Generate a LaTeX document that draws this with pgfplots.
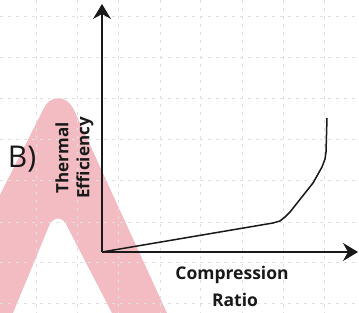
\documentclass[border=0pt]{standalone}
\usepackage{pgfplots}
\pgfplotsset{compat=1.18}
\usepackage{fontspec}
\setmainfont{Open Sans}
\usetikzlibrary{arrows.meta}
\definecolor{wm}{RGB}{243,188,194}
\definecolor{ink}{RGB}{25,25,25}
\begin{document}
\begin{tikzpicture}[>={Stealth[length=15pt,width=18pt,inset=5pt]}]
\begin{axis}[
  set layers,
  x=1pt, y=1pt,
  xmin=0, xmax=256, ymin=0, ymax=247,
  axis lines*=left,
  axis line style={draw=none},
  ticks=none,
  clip=false,
]
\begin{pgfonlayer}{axis background}
\begin{scope}[shift={(axis cs:-102,252)}, x=1pt, y=-1pt]
  \clip (0,0) rectangle (359,313);
  \fill[wm] (-60,313) -- (43,110) .. controls (50,94) and (66,94) .. (74,110) -- (167,313) -- (112,313) -- (67,226) .. controls (63,216) and (53,216) .. (49,226) -- (13,313) -- cycle;
  \pgfplotsinvokeforeach{36,77,118,160,200,242,283,324}{
    \draw[gray!25, dash pattern=on 3pt off 5pt, line width=0.5pt] (#1,0) -- (#1,313);}
  \pgfplotsinvokeforeach{16,57,98,139,180,222,262,303}{
    \draw[gray!25, dash pattern=on 3pt off 5pt, line width=0.5pt] (0,#1) -- (359,#1);}
\end{scope}
\end{pgfonlayer}
\draw[ink, line width=1.6pt, ->] (axis cs:0,0) -- (axis cs:256,0);
\draw[ink, line width=1.6pt, ->] (axis cs:0,0) -- (axis cs:0,248);
\addplot[ink, line width=1.5pt, line join=round] coordinates {
  (0,0) (171,29) (178,31) (183,35) (188,40) (211,69) (220,85) (223,93) (224,100) (225,134)
};
\begin{scope}[shift={(axis cs:-102,252)}, x=1pt, y=-1pt]
  \node[ink, font=\fontsize{30}{32}\selectfont] at (22,159) {B)};
  \node[ink, rotate=90, font=\bfseries\fontsize{17}{19}\selectfont] at (62,158) {Thermal};
  \node[ink, rotate=90, font=\bfseries\fontsize{17}{19}\selectfont] at (85,158) {Efficiency};
  \node[ink, font=\bfseries\fontsize{17.5}{19}\selectfont] at (232,275) {Compression};
  \node[ink, font=\bfseries\fontsize{17.5}{19}\selectfont] at (235,300) {Ratio};
\end{scope}
\coordinate (bl) at (axis cs:-102,-61);
\coordinate (tr) at (axis cs:257,252);
\end{axis}
\pgfresetboundingbox
\useasboundingbox (bl) rectangle (tr);
\end{tikzpicture}
\end{document}
